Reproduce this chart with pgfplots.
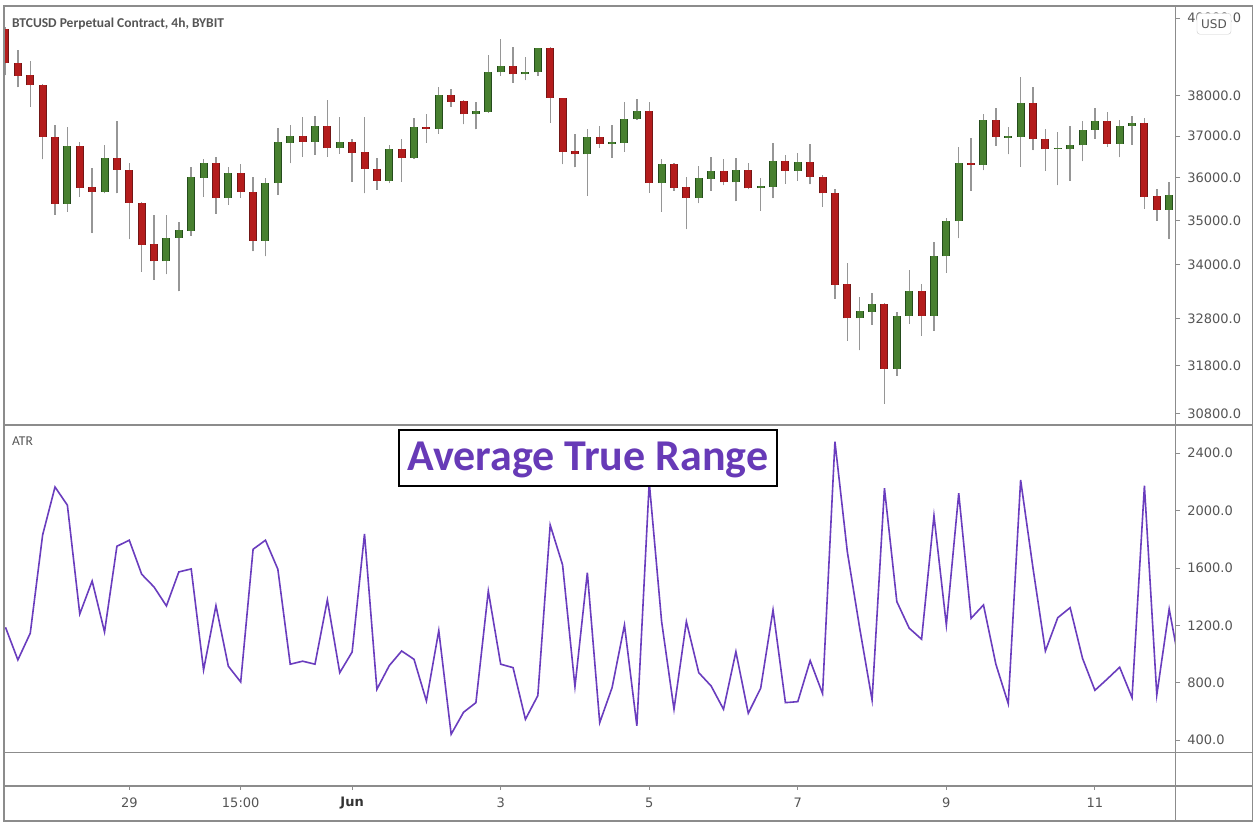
\documentclass[border=0pt]{standalone}
\usepackage{pgfplots}
\pgfplotsset{compat=1.18}
\usepackage{pgfplotstable}
\usepackage{fontspec}
\setmainfont{DejaVu Sans}
\newfontfamily\carlito{Carlito}
\definecolor{frame}{RGB}{140,140,140}
\definecolor{lab}{RGB}{85,85,85}
\definecolor{wick}{RGB}{150,150,150}
\definecolor{redfill}{RGB}{180,28,28}
\definecolor{redline}{RGB}{115,22,22}
\definecolor{grnfill}{RGB}{72,128,48}
\definecolor{grnline}{RGB}{36,76,28}
\definecolor{atr}{RGB}{106,61,190}
\definecolor{atrtext}{RGB}{103,58,183}

% red (falling) candles: index open high low close
\pgfplotstableread{
i o h l c
0 39712 39765 38530 38830
1 38830 39172 38219 38512
2 38520 38881 37733 38269
3 38277 38300 36442 36992
4 36992 37279 35128 35384
6 36765 36855 35555 35767
7 35776 36218 34705 35672
9 36481 37385 35634 36187
10 36194 36362 34568 35414
11 35414 35430 33836 34438
12 34454 35128 33651 34061
17 36362 36507 35151 35517
19 36108 36331 35531 35658
20 35665 36013 34287 34529
24 37002 37469 36507 36870
26 37254 37900 36507 36709
28 36855 36928 35909 36603
29 36613 37469 35634 36211
30 36211 36468 35712 35932
32 36685 36928 35909 36468
34 37237 37551 36845 37181
36 38033 38184 37733 37857
37 37867 37900 37296 37543
41 38768 39258 38335 38548
44 39216 39258 37336 37950
45 37950 37960 36324 36627
46 36644 37051 36252 36564
48 36977 37262 36724 36821
52 37618 37842 35649 35871
54 36331 36340 35696 35767
55 35776 36013 34797 35517
58 36170 36451 35823 35885
60 36194 36348 35729 35743
63 36403 36548 35861 36163
65 36372 36807 35842 36028
66 36028 36068 35321 35634
67 35634 35729 33231 33540
68 33555 34025 32329 32809
71 33116 33151 31005 31728
74 33393 33556 32430 32860
78 36355 36953 35696 36307
80 37395 37692 36772 36977
83 37832 38234 36661 36943
84 36943 37181 36163 36685
89 37377 37593 36748 36821
92 37328 37452 35267 35555
93 35564 35736 34996 35244
}\redc

% green (rising) candles: index open high low close
\pgfplotstableread{
i o h l c
5 35384 37237 35198 36765
8 35658 36790 35634 36481
13 34061 35128 33778 34605
14 34598 34973 33393 34781
15 34765 36266 34650 36013
16 36004 36458 35555 36362
18 35517 36266 35360 36108
21 34529 35989 34174 35878
22 35871 37198 35595 36855
23 36845 37279 36348 37002
25 36870 37501 36555 37254
27 36709 37469 36572 36855
31 35932 36782 35871 36685
33 36468 37444 36450 37237
35 37181 38234 37058 38033
38 37543 37842 37173 37618
39 37608 39035 37583 38599
40 38599 39450 38512 38768
42 38548 38984 38403 38607
43 38599 39230 38505 39216
47 36564 37173 35578 36977
49 36821 37286 36481 36855
50 36845 37842 36627 37427
51 37419 37925 37405 37618
53 35871 36451 35198 36331
56 35517 36290 35400 35989
57 35980 36499 35696 36170
59 35885 36475 35447 36194
61 35752 35989 35221 35800
62 35790 36831 35508 36403
64 36163 36588 35925 36379
69 32809 33283 32116 32969
70 32954 33357 32666 33116
72 31728 32954 31584 32867
73 32860 33874 32688 33393
75 32860 34513 32543 34183
76 34174 35051 33814 34982
77 34982 36748 34591 36355
79 36307 37551 36180 37395
81 36967 37222 36564 37002
82 36985 38472 36266 37832
85 36685 37100 35823 36692
86 36685 37262 35932 36782
87 36782 37377 36396 37163
88 37163 37692 36936 37377
90 36821 37402 36492 37254
91 37254 37501 36790 37328
94 35244 35894 34568 35595
}\grnc

% ATR
\pgfplotstableread{
i v
0 1187
1 960
2 1146
3 1831
4 2165
5 2038
6 1280
7 1510
8 1155
9 1752
10 1794
11 1557
12 1468
13 1336
14 1573
15 1594
16 890
17 1338
18 916
19 806
20 1731
21 1794
22 1592
23 930
24 951
25 930
26 1378
27 871
28 1015
29 1838
30 755
31 920
32 1022
33 964
34 674
35 1164
36 442
37 595
38 662
39 1440
40 930
41 906
42 546
43 711
44 1900
45 1622
46 774
47 1568
48 523
49 767
50 1203
51 500
52 2198
53 1227
54 616
55 1227
56 871
57 778
58 616
59 1017
60 588
61 762
62 1308
63 662
64 669
65 955
66 725
67 2481
68 1714
69 1181
70 681
71 2156
72 1366
73 1181
74 1104
75 1965
76 1203
77 2121
78 1250
79 1343
80 930
81 655
82 2214
83 1599
84 1022
85 1254
86 1324
87 971
88 748
89 827
90 909
91 697
92 2174
93 716
94 1315
95 850
}\atrdata

\pgfplotsset{
  pane/.style={
    scale only axis, anchor=north west, width=1171.6pt,
    xmin=-0.121, xmax=94.52,
    axis line style={draw=frame, line width=1.2pt},
    tick align=outside, major tick length=4.5pt,
    tick style={draw=frame, line width=1pt},
    ytick pos=right, yticklabel pos=right,
    yticklabel style={font=\fontsize{13}{15}\selectfont, text=lab, anchor=west, inner sep=0pt, xshift=7pt},
  },
  candle/.style n args={2}{only marks, mark=*, mark size=0pt,
    mark options={draw=none, fill=none}, forget plot,
    error bars/.cd, y dir=plus, y explicit, error mark=none,
    error bar style={draw=#1, line width=#2, line cap=butt}},
}

\begin{document}
\begin{tikzpicture}[x=1pt,y=1pt]
\path[use as bounding box, fill=white] (0,0) rectangle (1257,828);

% price pane
\begin{axis}[pane, at={(4pt,822pt)}, height=419pt,
  ymode=log, ymin=30578, ymax=40327,
  xtick=\empty,
  ytick={30800,31800,32800,34000,35000,36000,37000,38000,40000},
  yticklabels={30800.0,31800.0,32800.0,34000.0,35000.0,36000.0,37000.0,38000.0,40000.0},
]
\addplot[candle={wick}{1.4pt}] table[x=i, y=l, y error plus expr=\thisrow{h}-\thisrow{l}] {\redc};
\addplot[candle={wick}{1.4pt}] table[x=i, y=l, y error plus expr=\thisrow{h}-\thisrow{l}] {\grnc};
\addplot[candle={redline}{8pt}] table[x=i, y=c, y error plus expr={max(\thisrow{o}-\thisrow{c},40)}] {\redc};
\addplot[candle={redfill}{6pt}] table[x=i, y=c, y error plus expr={max(\thisrow{o}-\thisrow{c},40)}] {\redc};
\addplot[candle={grnline}{8pt}] table[x=i, y=o, y error plus expr={max(\thisrow{c}-\thisrow{o},40)}] {\grnc};
\addplot[candle={grnfill}{6pt}] table[x=i, y=o, y error plus expr={max(\thisrow{c}-\thisrow{o},40)}] {\grnc};
\end{axis}

% ATR pane
\begin{axis}[pane, at={(4pt,403pt)}, height=327.3pt,
  ymin=316, ymax=2597,
  xtick=\empty,
  ytick={400,800,1200,1600,2000,2400},
  yticklabels={400.0,800.0,1200.0,1600.0,2000.0,2400.0},
]
\addplot[atr, line width=1.6pt, mark=none] table[x=i, y=v] {\atrdata};
\end{axis}

% time scale
\begin{axis}[pane, at={(4pt,42pt)}, height=35pt,
  ymin=0, ymax=1, ytick=\empty,
  tick align=inside, major tick length=4pt,
  xtick pos=right, xticklabel pos=right,
  xtick={10,19,28,40,52,64,76,88},
  xticklabels={29,15:00,{\color{black!80}\bfseries Jun},3,5,7,9,11},
  xticklabel style={font=\fontsize{13}{15}\selectfont, text=lab, anchor=center, yshift=-17pt},
]
\end{axis}

% frame
\draw[frame, line width=1.2pt] (4,822) rectangle (1252.6,7);
\draw[frame, line width=1.2pt] (4,403) -- (1252.6,403);
\draw[frame, line width=1.2pt] (4,75.7) -- (1252.6,75.7);
\draw[frame, line width=1.2pt] (4,42) -- (1252.6,42);
\draw[frame, line width=1.2pt] (1175.6,7) -- (1175.6,822);

% labels
\node[anchor=base west, inner sep=0pt, text=lab, font=\carlito\bfseries\fontsize{13.5}{15}\selectfont] at (12,800.7) {BTCUSD Perpetual Contract, 4h, BYBIT};
\node[anchor=base west, inner sep=0pt, text=lab, font=\carlito\fontsize{13.5}{15}\selectfont] at (12,382.3) {ATR};
\node[draw=black, line width=2.5pt, fill=white, minimum width=378pt, minimum height=56pt, inner sep=0pt] at (588,370) {};
\node[anchor=base, inner sep=0pt, text=atrtext, font=\carlito\bfseries\fontsize{44}{48}\selectfont] at (588,357.3) {Average True Range};
\node[draw=black!20, fill=white, rounded corners=3pt, minimum width=34pt, minimum height=21pt, inner sep=0pt, text=lab, font=\fontsize{12}{14}\selectfont] at (1214,804.2) {USD};
\end{tikzpicture}
\end{document}
